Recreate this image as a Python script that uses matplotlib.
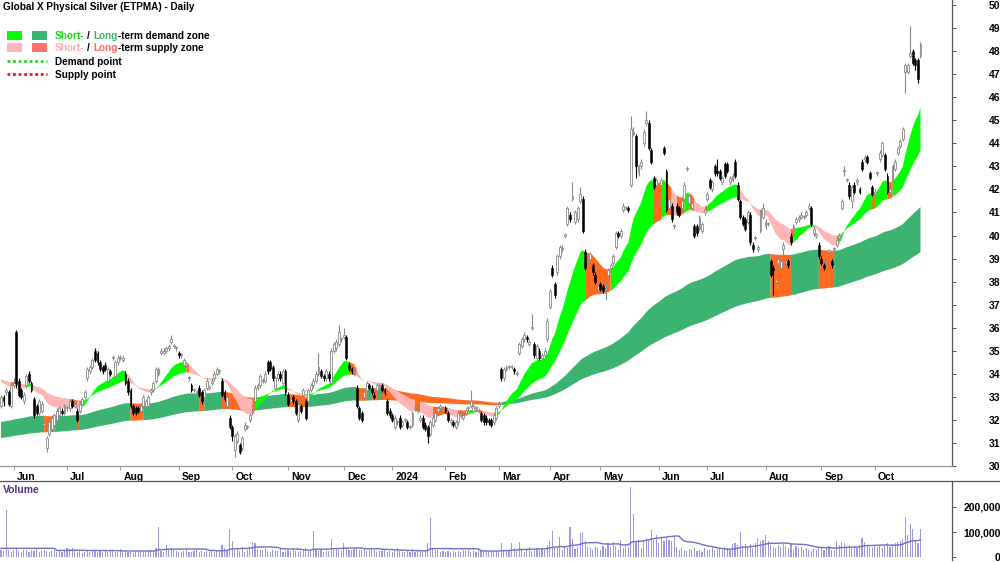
import matplotlib
matplotlib.use('Agg')
import matplotlib.pyplot as plt
import numpy as np
import pandas as pd
from matplotlib.patches import Rectangle
from matplotlib.lines import Line2D
import matplotlib.transforms as mtrans

plt.rcParams['font.family'] = ['Liberation Sans', 'DejaVu Sans']

# ---------------- data ----------------
start_date = '2023-05-25'
asx_holidays = ['2023-06-12', '2023-12-25', '2023-12-26', '2024-01-01', '2024-01-26',
                '2024-03-29', '2024-04-01', '2024-04-25', '2024-06-10']

opens = [
 32.6,33.0,33.2,33.2,32.6,33.5,35.8,33.7,33.3,32.8,
 33.5,34.0,33.6,32.9,32.6,32.3,32.4,31.8,30.8,31.4,
 31.6,31.8,32.0,32.2,32.4,32.3,32.5,32.5,32.8,32.6,
 32.4,32.4,32.7,33.0,33.8,34.1,34.3,35.0,34.9,34.5,
 34.3,34.4,33.7,34.1,34.7,33.9,34.5,34.7,34.6,34.0,
 33.7,33.3,32.6,32.5,32.5,32.4,32.6,32.6,32.6,33.2,
 33.3,33.7,34.0,34.9,34.9,35.0,35.1,35.4,35.2,35.1,
 34.9,34.8,34.4,34.4,33.8,33.5,33.3,33.2,33.4,33.2,
 33.0,33.4,33.4,33.6,33.8,34.0,34.1,33.7,33.2,32.6,
 32.1,31.7,30.7,31.1,30.9,30.8,31.6,31.7,32.0,32.3,
 32.8,33.4,33.5,33.7,33.7,34.5,34.5,34.3,33.4,33.8,
 34.0,33.6,34.1,33.1,32.8,33.0,32.8,32.0,32.6,33.1,
 32.8,32.8,33.3,33.5,33.7,34.0,34.1,33.9,33.8,34.0,
 33.6,35.0,35.1,35.3,35.5,35.6,35.6,34.4,34.2,34.0,
 33.4,32.5,32.3,33.0,33.3,33.5,33.4,33.1,33.3,33.4,
 33.5,33.3,32.8,32.4,32.2,31.7,31.9,32.1,31.8,32.0,
 31.9,31.7,31.8,32.5,32.4,32.0,32.1,31.8,31.7,31.4,
 31.8,32.0,32.4,32.5,32.5,32.5,32.3,31.9,31.9,31.7,
 31.9,32.2,32.1,32.3,32.5,32.6,32.4,32.5,32.4,32.3,
 32.2,32.1,32.0,32.0,31.9,32.1,32.6,34.2,33.8,34.2,
 34.3,34.3,34.2,34.0,34.9,35.2,35.5,35.6,35.3,36.0,
 35.3,34.7,35.0,34.7,34.8,35.5,36.9,38.6,37.9,38.4,
 39.1,39.4,40.0,40.5,40.9,41.6,40.6,40.7,41.5,41.6,
 39.3,38.9,39.0,38.7,38.3,37.7,37.9,37.8,37.5,38.3,
 38.6,38.8,39.5,40.1,40.0,41.1,41.2,41.2,42.2,44.4,
 44.3,42.7,43.0,44.0,44.9,44.9,43.7,42.5,42.2,41.4,
 42.2,43.8,42.8,41.2,41.3,40.4,41.3,41.2,41.2,41.6,
 42.9,41.4,41.2,40.4,40.4,40.3,40.2,41.0,41.6,42.4,
 42.0,43.0,42.8,42.8,42.3,43.1,43.1,42.3,42.4,43.2,
 42.2,41.5,40.8,40.7,40.6,40.9,39.6,39.9,39.4,40.2,
 40.8,40.4,40.5,38.9,38.6,38.0,38.8,38.6,39.4,38.8,
 38.9,40.0,40.1,40.6,40.7,40.8,40.8,40.9,41.2,41.2,
 40.1,40.0,39.6,39.0,38.7,38.8,39.3,38.9,39.4,39.6,
 39.9,41.2,42.8,42.4,42.2,41.5,42.2,42.3,42.0,43.2,
 43.3,43.4,42.7,42.1,41.8,42.7,43.3,43.5,43.5,42.6,
 41.9,42.4,42.9,43.6,43.9,44.2,47.1,47.1,47.8,48.0,
 47.6,47.6,47.8]

highs = [
 33.1,33.1,33.4,33.3,33.6,33.8,35.9,33.8,33.4,33.2,
 34.0,34.1,33.7,33.0,32.7,32.9,32.8,31.9,31.3,32.0,
 32.2,32.3,32.5,32.6,32.5,32.7,32.6,32.9,32.9,32.8,
 32.5,32.8,33.0,33.3,34.3,34.4,34.7,35.1,35.0,34.6,
 34.4,34.5,34.3,34.2,34.8,34.6,34.8,34.8,34.8,34.1,
 33.8,33.4,32.7,32.6,32.6,32.7,33.1,32.9,33.1,33.4,
 33.7,34.3,34.3,35.1,35.1,35.2,35.3,35.7,35.3,35.2,
 35.0,34.9,34.7,34.5,33.9,33.6,33.4,33.3,33.5,33.3,
 33.4,33.8,33.5,33.8,34.1,34.3,34.2,33.8,33.3,33.1,
 32.2,31.8,31.4,31.5,31.0,31.3,31.9,31.8,32.3,32.7,
 33.5,33.6,34.0,33.8,34.1,34.6,34.6,34.4,33.9,34.1,
 34.1,34.2,34.2,33.2,33.0,33.1,32.9,32.8,32.7,33.4,
 32.9,33.4,33.6,33.8,34.1,34.9,34.2,34.0,34.2,34.1,
 35.1,35.4,35.5,36.1,35.6,36.0,35.7,34.5,34.3,34.1,
 33.5,32.6,32.4,33.3,33.7,33.6,33.5,33.2,33.6,33.6,
 33.6,33.4,32.9,32.5,32.3,32.2,32.0,32.2,32.0,32.1,
 32.0,31.8,32.4,32.6,32.5,32.2,32.2,31.9,31.8,32.0,
 32.2,32.4,32.6,32.7,32.6,32.6,32.4,32.1,32.0,32.0,
 32.4,32.3,32.3,32.5,32.6,33.3,32.7,32.6,32.5,32.4,
 32.3,32.2,32.1,32.1,32.3,32.6,32.8,34.3,34.3,34.4,
 34.4,34.4,34.3,34.1,35.4,35.6,35.8,35.7,35.5,36.6,
 35.4,35.3,35.1,34.9,35.1,36.4,37.7,38.7,38.0,39.2,
 39.6,39.6,40.1,41.3,41.0,42.3,41.1,41.3,42.1,41.7,
 39.4,39.0,39.3,38.8,38.4,37.9,38.0,37.9,38.0,38.6,
 38.8,39.2,40.2,40.2,40.3,41.4,41.3,41.3,45.2,44.7,
 44.4,43.1,43.3,44.6,45.4,45.0,43.8,42.6,42.5,41.5,
 42.5,43.9,42.9,41.7,41.4,40.5,41.4,41.3,41.6,42.3,
 43.0,41.8,41.5,40.5,40.5,40.9,40.6,41.2,41.9,42.5,
 42.4,43.1,43.3,42.9,42.6,43.2,43.2,42.6,42.7,43.3,
 42.3,41.6,40.9,40.8,41.1,41.0,39.7,40.0,39.6,41.1,
 41.4,40.7,40.6,39.0,38.7,38.1,39.1,39.0,39.7,39.0,
 39.0,40.1,40.5,40.8,40.9,41.0,40.9,41.1,41.4,41.3,
 40.4,40.1,39.7,39.1,38.8,39.0,39.4,39.0,39.5,39.9,
 40.1,41.6,43.0,42.5,42.3,42.2,42.3,42.5,42.1,43.3,
 43.5,43.5,42.8,42.2,42.0,42.8,43.7,44.1,43.6,42.7,
 42.1,43.1,43.3,43.9,44.2,44.7,47.5,47.5,49.1,48.1,
 47.7,47.7,48.4]

lows = [
 32.5,32.6,33.1,32.6,32.5,33.4,33.4,33.0,32.9,32.7,
 33.4,33.6,33.2,32.1,32.2,32.2,32.3,31.7,30.6,31.3,
 31.5,31.7,31.9,32.1,32.2,32.2,32.4,32.4,32.5,32.5,
 31.9,32.3,32.6,32.9,33.7,34.0,34.2,34.5,34.4,34.1,
 34.0,34.1,33.6,33.9,34.6,33.8,34.4,34.6,34.5,33.5,
 33.1,32.5,32.2,32.2,32.3,32.3,32.5,32.5,32.5,33.1,
 33.2,33.6,33.9,34.8,34.8,34.9,35.0,35.3,35.1,35.0,
 34.7,34.7,34.3,34.3,33.7,33.2,33.2,33.1,33.0,32.7,
 32.9,33.3,33.3,33.5,33.7,33.9,34.0,33.0,32.8,32.5,
 31.6,31.1,30.4,31.0,30.5,30.7,31.5,31.6,31.9,32.2,
 32.7,33.3,33.4,33.6,33.6,34.0,34.1,33.7,33.3,33.7,
 33.7,33.5,33.1,32.6,32.7,32.7,32.2,31.9,32.3,33.0,
 32.0,32.7,33.2,33.4,33.6,33.9,33.8,33.7,33.7,33.7,
 33.5,34.9,35.0,35.2,35.4,35.5,34.6,34.1,34.0,33.9,
 32.5,32.0,31.9,32.9,33.2,33.3,33.1,32.9,33.2,33.3,
 33.2,33.1,32.2,32.1,31.9,31.6,31.8,31.6,31.7,31.9,
 31.6,31.6,31.7,32.4,32.3,31.9,31.6,31.5,31.0,31.3,
 31.7,31.9,32.3,32.4,32.4,32.3,31.9,31.8,31.7,31.6,
 31.8,32.1,32.0,32.2,32.4,32.5,32.3,32.4,32.3,31.9,
 31.8,31.8,31.8,31.7,31.8,32.0,32.5,33.7,33.7,34.1,
 34.2,34.2,34.0,33.9,34.8,35.1,35.4,35.4,35.2,35.9,
 34.7,34.6,34.6,34.6,34.7,35.4,36.8,38.2,37.3,38.3,
 39.0,39.3,39.9,40.4,40.6,41.5,40.5,40.6,41.4,40.1,
 38.5,38.8,38.9,38.3,37.9,37.6,37.6,37.5,37.2,38.2,
 38.5,38.7,39.4,39.9,39.9,41.0,41.1,41.0,42.1,44.3,
 42.5,42.6,42.9,43.9,44.8,43.7,43.1,42.0,42.1,41.3,
 42.1,43.5,41.0,41.1,40.6,40.3,40.9,40.8,41.1,41.5,
 42.8,41.3,41.1,39.9,40.0,40.2,40.1,40.9,41.5,42.0,
 41.9,42.6,42.6,42.4,42.2,42.5,42.7,42.2,42.3,42.5,
 41.5,40.7,40.4,40.2,40.5,39.6,39.3,39.8,39.3,40.1,
 40.7,40.3,40.4,38.2,37.4,37.9,38.7,38.5,38.9,38.7,
 38.6,39.6,40.0,40.5,40.6,40.7,40.7,40.8,41.1,40.4,
 40.0,39.9,39.0,38.7,38.5,38.7,39.2,38.6,39.3,39.5,
 39.8,41.1,42.6,42.3,41.6,41.2,41.8,42.2,41.8,42.8,
 43.2,43.1,42.4,41.7,41.7,42.6,43.2,43.4,42.8,41.8,
 41.8,42.3,42.8,43.5,43.8,44.1,46.2,47.0,47.7,47.4,
 47.2,46.6,47.7]

closes = [
 33.0,32.8,33.3,32.7,33.5,33.6,33.6,33.1,33.0,33.1,
 33.9,33.7,33.3,32.2,32.3,32.8,32.7,31.8,31.2,31.9,
 32.1,32.2,32.4,32.5,32.3,32.6,32.5,32.8,32.6,32.7,
 32.0,32.7,32.9,33.2,34.2,34.3,34.6,34.6,34.5,34.2,
 34.1,34.2,34.2,34.0,34.7,34.5,34.7,34.7,34.7,33.6,
 33.2,32.6,32.3,32.3,32.4,32.6,33.0,32.8,33.0,33.3,
 33.6,34.2,34.2,35.0,35.0,35.1,35.2,35.5,35.2,35.1,
 34.8,34.8,34.6,34.4,33.8,33.3,33.3,33.2,33.1,32.8,
 33.3,33.7,33.4,33.7,34.0,34.2,34.1,33.1,32.9,33.0,
 31.7,31.3,31.3,31.4,30.6,31.2,31.8,31.7,32.2,32.6,
 33.4,33.5,33.9,33.7,34.0,34.1,34.2,33.8,33.8,34.0,
 33.8,34.1,33.2,32.7,32.9,32.8,32.3,32.7,32.4,33.3,
 32.1,33.3,33.5,33.7,34.0,34.3,33.9,33.8,34.1,33.8,
 35.0,35.3,35.4,35.8,35.5,35.7,34.7,34.2,34.1,34.0,
 32.6,32.1,32.0,33.2,33.6,33.4,33.2,33.0,33.5,33.5,
 33.3,33.2,32.3,32.2,32.0,32.1,31.9,31.7,31.9,32.0,
 31.7,31.7,32.3,32.5,32.4,32.1,31.7,31.6,31.3,31.9,
 32.1,32.3,32.5,32.6,32.5,32.4,32.0,32.0,31.8,31.9,
 32.3,32.2,32.2,32.4,32.5,32.8,32.6,32.5,32.4,32.0,
 31.9,31.9,31.9,31.8,32.2,32.5,32.7,33.8,34.2,34.3,
 34.3,34.3,34.1,34.0,35.3,35.5,35.7,35.5,35.4,36.0,
 34.8,35.2,34.7,34.8,35.0,36.3,37.6,38.3,37.4,39.1,
 39.5,39.4,40.0,41.2,40.7,41.7,41.0,41.2,41.8,40.2,
 38.6,38.9,39.2,38.4,38.0,37.8,37.7,37.6,37.9,38.5,
 38.7,39.1,40.1,40.0,40.2,41.3,41.2,41.1,44.6,44.5,
 43.0,43.0,43.2,44.5,45.0,43.8,43.2,42.1,42.4,41.4,
 42.4,43.6,41.1,41.6,40.7,40.4,41.0,40.9,41.5,42.2,
 42.9,41.7,41.4,40.0,40.1,40.8,40.5,41.1,41.8,42.1,
 42.3,42.7,42.7,42.5,42.5,42.6,42.8,42.5,42.6,42.6,
 41.6,40.8,40.5,40.3,41.0,39.7,39.4,39.9,39.5,41.0,
 41.2,40.6,40.5,38.3,38.5,38.0,39.0,38.9,39.6,38.9,
 38.7,39.7,40.4,40.7,40.8,40.9,40.8,41.0,41.3,40.5,
 40.3,40.0,39.1,38.8,38.6,38.9,39.3,38.7,39.4,39.8,
 40.0,41.5,42.8,42.4,41.7,42.1,41.9,42.4,41.9,42.9,
 43.4,43.2,42.5,41.8,41.9,42.7,43.6,44.0,42.9,41.9,
 42.0,43.0,43.2,43.8,44.1,44.6,47.4,47.4,47.9,47.5,
 47.4,46.8,48.3]

volume_k = [
 30,25,188,28,22,30,35,25,20,28,
 30,22,28,25,35,20,24,30,26,22,
 25,30,20,28,22,30,36,33,36,25,
 22,25,18,20,28,22,30,25,20,24,
 22,27,20,25,30,20,22,32,30,25,
 20,22,18,24,20,26,22,20,25,30,
 28,35,120,25,22,48,32,36,30,25,
 22,20,24,30,22,20,25,28,22,25,
 20,24,22,26,20,25,30,48,38,30,
 112,64,28,35,25,40,22,30,45,60,
 58,32,30,28,36,25,22,30,24,26,
 35,22,25,28,24,36,25,22,26,30,
 36,24,30,105,28,25,30,22,26,24,
 72,28,36,30,25,56,36,28,30,32,
 35,30,28,36,25,30,34,28,22,26,
 24,30,22,26,20,24,35,25,20,22,
 24,20,32,22,25,28,20,24,57,157,
 35,28,30,22,25,20,24,22,26,20,
 24,22,28,25,30,20,24,22,26,25,
 22,24,20,26,22,25,20,56,25,30,
 28,56,35,25,61,30,22,28,40,25,
 30,35,25,32,28,48,64,104,40,35,
 80,30,45,35,120,73,32,40,96,100,
 64,40,36,30,42,35,28,45,38,52,
 40,61,45,30,68,36,48,40,280,172,
 64,68,36,70,75,68,108,70,88,55,
 80,66,76,70,64,84,40,30,36,28,
 26,32,30,35,25,28,22,36,28,30,
 40,25,32,35,28,42,38,30,52,56,
 48,101,45,52,40,52,35,55,77,65,
 70,88,65,48,42,35,50,40,55,45,
 38,52,30,45,35,40,28,36,30,25,
 32,28,40,35,30,38,45,30,28,64,
 50,60,55,42,48,38,45,35,50,78,
 60,45,40,35,50,42,48,38,45,55,
 40,52,55,60,65,70,161,88,132,111,
 65,55,113]

# zone indicator settings (EMA spans) and starting levels read at the chart's left edge
short_spans = (17, 40)
short_start = (33.75, 33.8)
long_spans = (125, 230)
long_start = (31.9, 31.2)
volume_ma_len = 20

price_ticks = list(range(30, 51))
volume_ticks = [0, 100000, 200000]
month_names = {1: '2024', 2: 'Feb', 3: 'Mar', 4: 'Apr', 5: 'May', 6: 'Jun', 7: 'Jul',
               8: 'Aug', 9: 'Sep', 10: 'Oct', 11: 'Nov', 12: 'Dec'}

title = 'Global X Physical Silver (ETPMA) - Daily'

# ---------------- computations ----------------
O = np.array(opens); Hh = np.array(highs); L = np.array(lows); C = np.array(closes)
V = np.array(volume_k) * 1000.0
n = len(C)
x = np.arange(n)

cbd = pd.offsets.CustomBusinessDay(holidays=asx_holidays)
dates = pd.date_range(start_date, periods=n, freq=cbd)


def ema(vals, span, init):
    a = 2.0 / (span + 1)
    out = np.empty(len(vals))
    e = init
    for k, v in enumerate(vals):
        e = e + a * (v - e)
        out[k] = e
    return out


def slope_state(fast, slow, first_fast, first_slow):
    rf = np.diff(np.r_[first_fast, fast]) > 0
    rs = np.diff(np.r_[first_slow, slow]) > 0
    both_up = rf & rs
    both_dn = (~rf) & (~rs)
    mixed = ~(both_up | both_dn)
    return both_up, mixed, both_dn

s_fast = ema(C, short_spans[0], short_start[0])
s_slow = ema(C, short_spans[1], short_start[1])
l_fast = ema(C, long_spans[0], long_start[0])
l_slow = ema(C, long_spans[1], long_start[1])

# ---------------- figure ----------------
W, H = 1000, 562
fig = plt.figure(figsize=(W / 100, H / 100), dpi=100)


def fx(px):
    return px / W


def fy(py):
    return 1 - py / H

PX_PER_DAY = 2.54
AX_RIGHT = 952
ax = fig.add_axes([0, fy(466), fx(AX_RIGHT), 466 / H])
vax = fig.add_axes([0, fy(560), fx(AX_RIGHT), (560 - 481) / H])

xlim = (-1 / PX_PER_DAY, (AX_RIGHT - 1) / PX_PER_DAY)
ax.set_xlim(*xlim)
vax.set_xlim(*xlim)
ax.set_ylim(30, 30 + 466 / 23.05)
vax.set_ylim(-12000, 304000)

C_GREEN = '#00FF00'
C_PINK = '#FFB5B5'
C_ORANGE = '#FF6A1F'
C_LGREEN = '#3CB371'
C_LRED = '#FF7070'


def fill_runs(axis, xs, lo, hi, mask, color, z):
    m2 = mask.copy()
    m2[1:] = mask[1:] | mask[:-1]
    axis.fill_between(xs, lo, hi, where=m2, color=color, lw=0, zorder=z, interpolate=False)

# long-term zone: demand (green) while both edges rise, otherwise contested (orange)
l_top = np.maximum(l_fast, l_slow)
l_bot = np.minimum(l_fast, l_slow)
l_up, l_mix, l_dn = slope_state(l_fast, l_slow, long_start[0], long_start[1])
fill_runs(ax, x, l_bot, l_top, l_up, C_LGREEN, 1)
fill_runs(ax, x, l_bot, l_top, ~l_up, C_ORANGE, 1)

# short-term zone
s_top = np.maximum(s_fast, s_slow)
s_bot = np.minimum(s_fast, s_slow)
s_up, s_mix, s_dn = slope_state(s_fast, s_slow, short_start[0], short_start[1])
fill_runs(ax, x, s_bot, s_top, s_up, C_GREEN, 2)
fill_runs(ax, x, s_bot, s_top, s_mix, C_ORANGE, 2)
fill_runs(ax, x, s_bot, s_top, s_dn, C_PINK, 2)

# candles
up = C >= O
ax.vlines(x[up], L[up], Hh[up], color='#8a8a8a', lw=0.8, zorder=3)
ax.vlines(x[~up], L[~up], Hh[~up], color='black', lw=0.8, zorder=3)
body_lo = np.minimum(O, C)
body_h = np.maximum(np.abs(C - O), 0.05)
ax.bar(x[up], body_h[up], bottom=body_lo[up], width=0.75, facecolor='white',
       edgecolor='#8a8a8a', lw=0.6, zorder=4)
ax.bar(x[~up], body_h[~up], bottom=body_lo[~up], width=0.75, facecolor='black',
       edgecolor='black', lw=0.4, zorder=4)

# volume
vax.bar(x, V, width=0.45, color='#9a9ae0', zorder=2)
vma = pd.Series(V).rolling(volume_ma_len).mean().bfill()
vax.plot(x, vma, color='#6f6fc8', lw=1.0, zorder=3)

# axes styling
bold = dict(fontsize=7.5, fontweight='bold')
small_bold = dict(fontsize=7.2, fontweight='bold')
for a in (ax, vax):
    a.set_facecolor('none')
    a.spines['left'].set_visible(False)
    a.spines['top'].set_visible(False)
    a.spines['right'].set_color('#555555')
    a.spines['right'].set_linewidth(0.9)
    a.yaxis.tick_right()
ax.spines['bottom'].set_color('#999999')
ax.spines['bottom'].set_linewidth(0.9)
vax.spines['bottom'].set_visible(False)

ax.set_yticks(price_ticks)
ax.set_yticklabels([str(t) for t in price_ticks], **bold)
vax.set_yticks(volume_ticks)
vax.set_yticklabels([f'{t:,}' for t in volume_ticks], **bold)
for a in (ax, vax):
    a.tick_params(axis='y', direction='out', length=3, width=0.7, color='#555555', pad=32)
    for lab in a.get_yticklabels():
        lab.set_horizontalalignment('right')

# month ticks
month_idx = []
month_lab = []
prev = None
for i, d in enumerate(dates):
    if prev is not None and d.month != prev:
        month_idx.append(i)
        month_lab.append(month_names[d.month])
    prev = d.month
ax.set_xticks(month_idx)
ax.set_xticklabels(month_lab, **bold)
ax.tick_params(axis='x', direction='out', length=3, width=0.7, color='#999999', pad=1.5)
shift = mtrans.ScaledTranslation(3 / 100, 0, fig.dpi_scale_trans)
for lab in ax.get_xticklabels():
    lab.set_horizontalalignment('left')
    lab.set_transform(lab.get_transform() + shift)
vax.set_xticks([])

# separator line between price and volume panels
fig.add_artist(Line2D([0, 1], [fy(480.5), fy(480.5)], transform=fig.transFigure,
                      color='#555555', lw=0.9))

# title and legend
fig.text(fx(3), fy(7), title, ha='left', va='center', **small_bold)
fig.text(fx(3), fy(490), 'Volume', ha='left', va='center', color='#5a2a8a', **bold)

for (x0, y0, col) in [(7, 31, C_GREEN), (32, 31, C_LGREEN), (7, 43, C_PINK), (32, 43, C_LRED)]:
    fig.add_artist(Rectangle((fx(x0), fy(y0 + 9)), 15 / W, 9 / H, transform=fig.transFigure,
                             facecolor=col, edgecolor='none'))
fig.add_artist(Line2D([fx(7), fx(47)], [fy(61), fy(61)], transform=fig.transFigure,
                      color='#22DD22', lw=2.0, linestyle=(0, (1, 1))))
fig.add_artist(Line2D([fx(7), fx(47)], [fy(74), fy(74)], transform=fig.transFigure,
                      color='#EE1111', lw=2.0, linestyle=(0, (1, 1))))

renderer = fig.canvas.get_renderer()


def color_text(xp, yp, parts):
    for s, col, gap in parts:
        t = fig.text(fx(xp), fy(yp), s, color=col, ha='left', va='center', **small_bold)
        bb = t.get_window_extent(renderer)
        xp += bb.width + gap

color_text(55, 36, [('Short-', '#11DD11', 3), ('/', 'black', 3), ('Long', '#3CB371', 0),
                    ('-term demand zone', 'black', 0)])
color_text(55, 48, [('Short-', '#FFAAAA', 3), ('/', 'black', 3), ('Long', '#FF6666', 0),
                    ('-term supply zone', 'black', 0)])
fig.text(fx(55), fy(62), 'Demand point', ha='left', va='center', **small_bold)
fig.text(fx(55), fy(75), 'Supply point', ha='left', va='center', **small_bold)

fig.savefig('out.png', dpi=100)
